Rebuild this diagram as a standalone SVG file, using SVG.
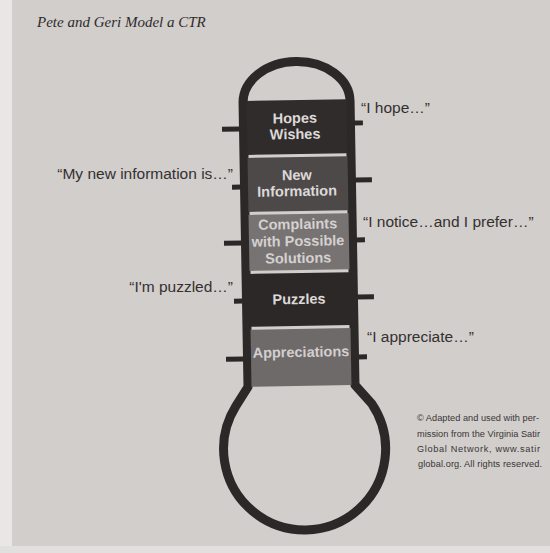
<svg xmlns="http://www.w3.org/2000/svg" width="550" height="553" viewBox="0 0 550 553">
  <style>
    .wall { fill: none; stroke: #2d2828; stroke-width: 9; stroke-linejoin: round; }
    .tick { fill: #2d2828; }
    .seg-text { font-family: "Liberation Sans", Arial, sans-serif; font-weight: bold; font-size: 14.5px; fill: #dcd9d8; text-anchor: middle; }
    .label { font-family: "Liberation Sans", Arial, sans-serif; font-size: 15.5px; fill: #353030; }
    .left { text-anchor: end; }
    .title { font-family: "Liberation Serif", "Times New Roman", serif; font-style: italic; font-size: 15px; fill: #2f2b2b; }
    .credit { font-family: "Liberation Sans", Arial, sans-serif; font-size: 9.2px; fill: #3a3535; }
  </style>

  <!-- page -->
  <rect x="0" y="0" width="550" height="553" fill="#d1cecc"/>
  <rect x="0" y="0" width="12" height="553" fill="#e8e7e6"/>
  <rect x="0" y="546" width="550" height="7" fill="#e2e0df"/>

  <g id="title">
    <text class="title" x="37" y="27">Pete and Geri Model a CTR</text>
  </g>

  <g id="thermometer" transform="rotate(-1 300 300)">
    <g id="outline">
      <path class="wall" d="M 246.5 386 L 246.5 102 A 53.5 40.5 0 0 1 353.5 102 L 353.5 386 L 370 405 A 81 81 0 1 1 234 405 Z"/>
    </g>

    <g id="ticks">
      <rect class="tick" x="225" y="125.5" width="18" height="5"/>
      <rect class="tick" x="234" y="183.5" width="9" height="5"/>
      <rect class="tick" x="225" y="239.5" width="18" height="5"/>
      <rect class="tick" x="234" y="297.5" width="9" height="5"/>
      <rect class="tick" x="225" y="355.5" width="18" height="5"/>
      <rect class="tick" x="357" y="121.5" width="9" height="5"/>
      <rect class="tick" x="357" y="178.5" width="17" height="5"/>
      <rect class="tick" x="357" y="238.5" width="9" height="5"/>
      <rect class="tick" x="357" y="295.5" width="17" height="5"/>
      <rect class="tick" x="357" y="355.5" width="9" height="5"/>
    </g>

    <g id="seg-hopes">
      <rect x="250" y="100" width="100" height="54" fill="#312c2c"/>
      <text class="seg-text" x="298" y="123">Hopes</text>
      <text class="seg-text" x="298" y="139">Wishes</text>
    </g>
    <g id="seg-new-information">
      <rect x="250" y="157" width="100" height="54" fill="#4e4949"/>
      <text class="seg-text" x="299" y="180">New</text>
      <text class="seg-text" x="299" y="196">Information</text>
    </g>
    <g id="seg-complaints">
      <rect x="250" y="214" width="100" height="56" fill="#787373"/>
      <text class="seg-text" x="299" y="229" style="fill:#d4d1d0">Complaints</text>
      <text class="seg-text" x="299" y="246" style="fill:#d4d1d0">with Possible</text>
      <text class="seg-text" x="299" y="263" style="fill:#d4d1d0">Solutions</text>
    </g>
    <g id="seg-puzzles">
      <rect x="250" y="273" width="100" height="53" fill="#2d2828"/>
      <text class="seg-text" x="299" y="304">Puzzles</text>
    </g>
    <g id="seg-appreciations">
      <rect x="250" y="329" width="100" height="57" fill="#6f6a6a"/>
      <text class="seg-text" x="300" y="357" style="fill:#d2cfce">Appreciations</text>
    </g>
  </g>

  <g id="label-hope">
    <text class="label" x="361" y="113">“I hope…”</text>
  </g>
  <g id="label-new-information">
    <text class="label left" x="233" y="179">“My new information is…”</text>
  </g>
  <g id="label-notice">
    <text class="label" x="363" y="227">“I notice…and I prefer…”</text>
  </g>
  <g id="label-puzzled">
    <text class="label left" x="233" y="292">“I'm puzzled…”</text>
  </g>
  <g id="label-appreciate">
    <text class="label" x="367" y="342">“I appreciate…”</text>
  </g>

  <g id="credit">
    <text class="credit" x="417" y="421" textLength="122" lengthAdjust="spacing">© Adapted and used with per-</text>
    <text class="credit" x="417" y="437" textLength="123" lengthAdjust="spacing">mission from the Virginia Satir</text>
    <text class="credit" x="417" y="452" textLength="123" lengthAdjust="spacing">Global  Network,  www.satir</text>
    <text class="credit" x="418" y="467" textLength="124" lengthAdjust="spacing">global.org. All rights reserved.</text>
  </g>
</svg>
